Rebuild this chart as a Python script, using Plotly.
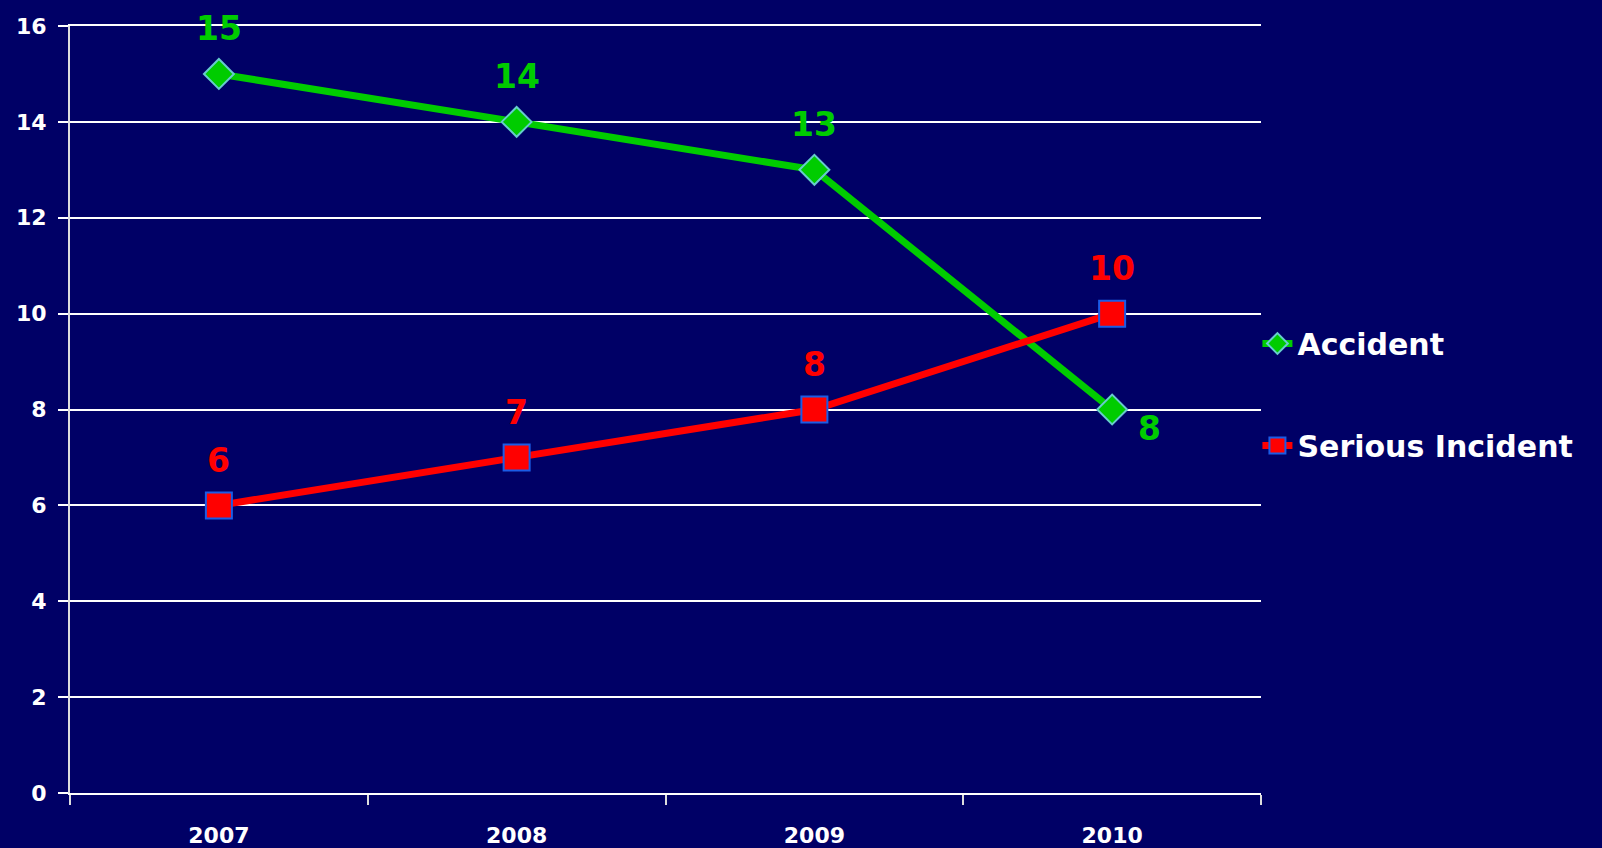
import plotly.graph_objects as go

years = ["2007", "2008", "2009", "2010"]
accident = [15, 14, 13, 8]
serious = [6, 7, 8, 10]
y_ticks = [0, 2, 4, 6, 8, 10, 12, 14, 16]

BG = "#000066"
GREEN = "#00CC00"
RED = "#FF0000"
FONT = "DejaVu Sans"

# label offsets (px) per point: (xshift, yshift)
acc_off = [(0, 45), (0, 45), (0, 45), (37, -19)]
ser_off = [(0, 45), (0, 45), (0, 45), (0, 45)]

fig = go.Figure()
fig.add_trace(go.Scatter(
    x=years, y=accident, name="Accident", mode="lines+markers",
    line=dict(color=GREEN, width=7),
    marker=dict(symbol="diamond", size=23, color=GREEN,
                line=dict(color="#66CCCC", width=2)),
    legendgroup="a",
))
fig.add_trace(go.Scatter(
    x=years, y=serious, name="Serious Incident", mode="lines+markers",
    line=dict(color=RED, width=7),
    marker=dict(symbol="square", size=26, color=RED,
                line=dict(color="#1A5CE6", width=2)),
    legendgroup="s",
))

annotations = []
for vals, offs, col in [(accident, acc_off, GREEN), (serious, ser_off, RED)]:
    for i, (v, (dx, dy)) in enumerate(zip(vals, offs)):
        annotations.append(dict(
            x=i, y=v, xref="x", yref="y", text=str(v), showarrow=False,
            xshift=dx, yshift=dy,
            font=dict(family=FONT, size=33, color=col, weight="bold"),
        ))

fig.update_layout(
    width=1602, height=848,
    paper_bgcolor=BG, plot_bgcolor=BG,
    margin=dict(l=70, r=341, t=26, b=55, autoexpand=False),
    showlegend=True,
    legend=dict(
        x=0.997, y=0.62, xanchor="left", yanchor="top",
        bgcolor="rgba(0,0,0,0)",
        font=dict(family=FONT, size=30, color="white", weight="bold"),
        traceorder="grouped", tracegroupgap=60,
    ),
    annotations=annotations,
    xaxis=dict(
        type="category", range=[-0.5, 3.5], automargin=False,
        tickson="boundaries", ticks="outside", ticklen=10, tickwidth=2,
        tickcolor="#DDDDDD",
        showgrid=False, showline=True, linecolor="white", linewidth=2,
        mirror=True,
        tickfont=dict(family=FONT, size=22, color="white", weight="bold"),
        ticklabelstandoff=22,
    ),
    yaxis=dict(
        range=[0, 16], tickvals=y_ticks, automargin=False,
        ticks="outside", ticklen=10, tickwidth=2, tickcolor="white",
        showgrid=True, gridcolor="white", gridwidth=2,
        zeroline=False,
        showline=True, linecolor="#DDDDDD", linewidth=2,
        tickfont=dict(family=FONT, size=22, color="white", weight="bold"),
        ticklabelstandoff=7,
    ),
)

fig.write_html(
    "out.html",
    config={"displayModeBar": False},
    post_script="document.body.style.margin='0';document.body.style.background='#000066';",
)
